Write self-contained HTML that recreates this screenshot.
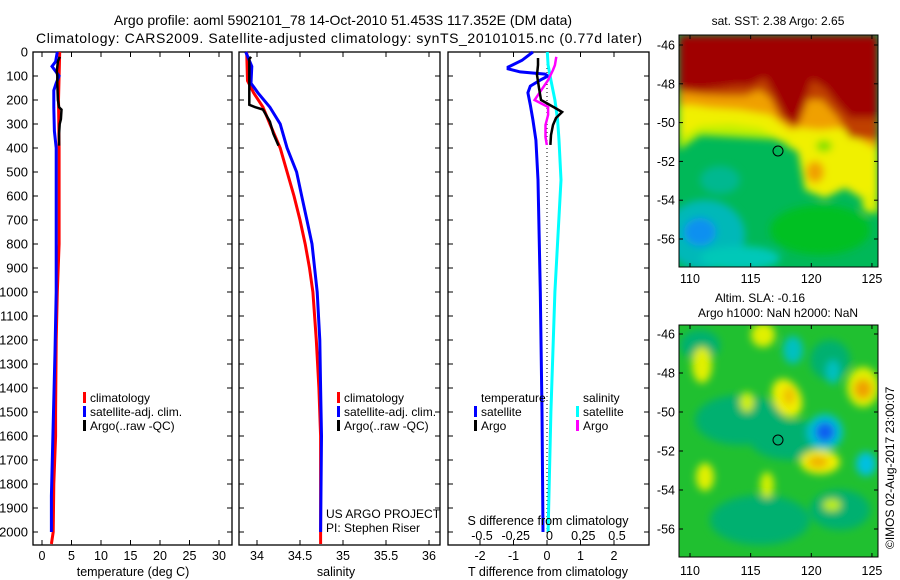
<!DOCTYPE html>
<html><head><meta charset="utf-8"><style>
html,body{margin:0;padding:0;background:#fff}
svg{display:block;font-family:"Liberation Sans",sans-serif}
text{fill:#000}
</style></head><body>
<svg id="fig" width="900" height="580" viewBox="0 0 900 580">
<defs>
<filter id="blur3" x="-10%" y="-10%" width="120%" height="120%"><feGaussianBlur stdDeviation="3"/></filter>
<filter id="blur4" x="-20%" y="-20%" width="140%" height="140%"><feGaussianBlur stdDeviation="4"/></filter>
<clipPath id="clipTop"><rect x="679" y="35" width="199" height="232"/></clipPath>
<clipPath id="clipBot"><rect x="679" y="325" width="199" height="232"/></clipPath>
</defs>
<text x="343" y="25" font-size="14" text-anchor="middle">Argo profile: aoml 5902101_78 14-Oct-2010 51.453S 117.352E (DM data)</text>
<text x="339" y="43" font-size="14" text-anchor="middle" textLength="606">Climatology: CARS2009. Satellite-adjusted climatology: synTS_20101015.nc (0.77d later)</text>

<g id="mapTop">
<g clip-path="url(#clipTop)">
<rect x="679" y="35" width="199" height="232" fill="#00b858"/>
<g filter="url(#blur4)">
<ellipse cx="705" cy="235" rx="40" ry="35" fill="#00b8b8"/>
<ellipse cx="700" cy="232" rx="16" ry="14" fill="#1090f0"/>
<ellipse cx="740" cy="258" rx="40" ry="12" fill="#00c8b8"/>
<ellipse cx="820" cy="230" rx="50" ry="25" fill="#00c020"/>
<ellipse cx="720" cy="180" rx="20" ry="14" fill="#00b890"/>
<polygon fill="#f0f000" points="679,35 878,35 878,215 865,200 845,188 825,198 805,190 798,152 782,142 760,134 730,130 700,130 690,140 679,146"/>
<polygon fill="#c0f000" points="679,138 700,126 730,124 760,128 782,140 790,150 790,140 700,135 679,150"/>
<polygon fill="#f0a000" points="679,35 878,35 878,150 860,140 840,128 820,130 800,128 790,130 770,115 740,110 710,108 690,105 679,106"/>
<ellipse cx="815" cy="172" rx="9" ry="11" fill="#f0a000"/>
<ellipse cx="870" cy="203" rx="8" ry="10" fill="#e0f000"/>
<ellipse cx="824" cy="146" rx="8" ry="6" fill="#80e000"/>
<polygon fill="#c04000" points="679,35 878,35 878,140 850,138 838,118 822,100 808,100 800,122 795,128 780,118 770,98 760,90 745,96 725,96 705,95 679,92"/>
<polygon fill="#a00000" points="679,35 878,35 878,118 850,118 838,105 825,88 812,80 802,108 796,124 786,118 776,98 765,78 750,86 735,86 720,88 700,90 679,88"/>
</g>
</g>
<rect x="679" y="35" width="199" height="232" fill="none" stroke="#000" stroke-width="1"/>
<circle cx="778" cy="151" r="5" fill="none" stroke="#000" stroke-width="1"/>
<text x="778" y="25" font-size="12" text-anchor="middle">sat. SST: 2.38 Argo: 2.65</text>
</g>

<g id="mapBot">
<g clip-path="url(#clipBot)">
<rect x="679" y="325" width="199" height="232" fill="#20c030"/>
<g filter="url(#blur4)">
<ellipse cx="740" cy="420" rx="45" ry="25" fill="#00b070"/>
<ellipse cx="790" cy="440" rx="40" ry="20" fill="#00b070"/>
<ellipse cx="760" cy="520" rx="50" ry="25" fill="#00b070"/>
<ellipse cx="840" cy="510" rx="30" ry="20" fill="#00b070"/>
<ellipse cx="700" cy="345" rx="20" ry="15" fill="#00b070"/>
<ellipse cx="830" cy="360" rx="20" ry="20" fill="#00b070"/>
<ellipse cx="793" cy="350" rx="10" ry="14" fill="#00c0c0"/>
<ellipse cx="833" cy="372" rx="7" ry="12" fill="#00c0c0"/>
<ellipse cx="825" cy="432" rx="18" ry="18" fill="#00c0d0"/>
<ellipse cx="825" cy="432" rx="10" ry="10" fill="#1060f0"/>
<ellipse cx="866" cy="464" rx="10" ry="12" fill="#00c0e0"/>
<ellipse cx="863" cy="387" rx="16" ry="20" fill="#e0f000"/>
<ellipse cx="863" cy="389" rx="9" ry="10" fill="#f0a000"/>
<ellipse cx="787" cy="398" rx="14" ry="20" fill="#f0f000" transform="rotate(-25 787 398)"/>
<ellipse cx="789" cy="396" rx="6" ry="9" fill="#f0c000"/>
<ellipse cx="820" cy="462" rx="20" ry="12" fill="#f0f000"/>
<ellipse cx="818" cy="462" rx="10" ry="6" fill="#f0b000"/>
<ellipse cx="702" cy="365" rx="10" ry="18" fill="#e0f000"/>
<ellipse cx="763" cy="335" rx="12" ry="12" fill="#e0f000"/>
<ellipse cx="705" cy="477" rx="9" ry="14" fill="#e0f000"/>
<ellipse cx="767" cy="485" rx="7" ry="13" fill="#d0f000"/>
<ellipse cx="747" cy="402" rx="7" ry="10" fill="#d0f000"/>
<ellipse cx="832" cy="505" rx="9" ry="6" fill="#c0f000"/>
</g>
</g>
<rect x="679" y="325" width="199" height="232" fill="none" stroke="#000" stroke-width="1"/>
<circle cx="778" cy="440" r="5" fill="none" stroke="#000" stroke-width="1"/>
<text x="760" y="302" font-size="12" text-anchor="middle">Altim. SLA: -0.16</text>
<text x="778" y="317" font-size="12" text-anchor="middle">Argo h1000: NaN h2000: NaN</text>
</g>
<text transform="translate(894,549) rotate(-90)" font-size="12">©IMOS 02-Aug-2017 23:00:07</text>

<g id="plots"></g>
</svg>
<script>
// depth axis
const depthTicks = [0,100,200,300,400,500,600,700,800,900,1000,1100,1200,1300,1400,1500,1600,1700,1800,1900,2000];
// temperature panel
const tempTicks = [0,5,10,15,20,25,30];
const climTDepth = [0,100,200,400,800,1000,1200,1500,1600,1800,2000,2050];
const climT = [3.0,2.9,2.8,2.9,2.9,2.6,2.4,2.3,2.3,2.0,1.9,1.6];
const satTDepth = [0,40,60,80,100,130,160,230,330,400,1000,1250,1450,1850,2000];
const satT = [2.6,2.3,1.7,2.3,2.9,2.4,2.0,2.0,2.1,2.4,2.4,2.2,2.0,1.6,1.6];
const argoTDepth = [20,40,80,100,130,200,230,240,280,300,340,390];
const argoT = [3.0,2.7,2.5,2.6,2.6,2.7,2.9,3.3,3.2,3.0,2.9,2.9];
// salinity panel
const salTicks = [34,34.5,35,35.5,36];
const climSDepth = [0,120,170,230,300,400,500,600,700,800,900,1000,1200,1400,1600,2000,2050];
const climS = [33.88,33.89,33.96,34.07,34.15,34.27,34.35,34.43,34.50,34.56,34.61,34.65,34.69,34.72,34.74,34.74,34.74];
const satSDepth = [0,60,130,170,230,300,400,500,600,700,800,900,1000,1200,1400,1600,2000];
const satS = [33.87,33.94,33.93,34.01,34.15,34.27,34.35,34.46,34.52,34.58,34.64,34.67,34.70,34.73,34.74,34.75,34.74];
const argoSDepth = [20,30,220,230,240,290,340,390];
const argoS = [33.93,33.91,33.91,33.98,34.07,34.15,34.19,34.25];
// difference panel
const tDiffTicks = [-2,-1,0,1,2];
const sDiffTicks = [-0.5,-0.25,0,0.25,0.5];
const sDiffTickLabels = ["-0.5","-0.25","0","0.25","0.5"];
const satTdDepth = [0,35,63,70,83,92,100,117,142,170,220,283,367,533,1000,1500,2000];
const satTd = [-0.42,-0.75,-1.16,-1.16,-0.8,-0.06,0.03,-0.2,-0.5,-0.57,-0.5,-0.42,-0.33,-0.27,-0.2,-0.15,-0.12];
const satSdDepth = [0,54,117,200,283,367,533,1000,1500,2000];
const satSd = [-0.016,-0.01,0.01,0.04,0.06,0.07,0.085,0.04,0.01,-0.01];
const argoSdDepth = [20,55,75,117,158,200,229,262,304,354,387];
const argoSd = [0.05,0.04,0.026,-0.01,-0.06,-0.11,-0.01,-0.01,-0.03,-0.03,-0.02];
const argoTdDepth = [25,54,96,150,200,233,250,275,304,346,387];
const argoTd = [-0.27,-0.27,-0.3,-0.24,-0.18,0.24,0.45,0.27,0.18,0.12,0.1];
// map axes
const lonTicks = [110,115,120,125];
const latTicks = [-46,-48,-50,-52,-54,-56];

const NS = "http://www.w3.org/2000/svg";
const root = document.getElementById('plots');
function mk(tag, attrs, parent){const e=document.createElementNS(NS,tag);for(const k in attrs)e.setAttribute(k,attrs[k]);(parent||root).appendChild(e);return e;}
const Y0=52, YB=545;
const yD = d => Y0 + d*0.24;
const xT = t => 42 + t*5.9;
const xS = s => 257 + (s-34)*86;
const xTd = t => 547 + t*33.5;
const xSd = s => 549.5 + s*135;

function panel(name, x0, x1, xs, ticks, labels, depthLabels){
  const g = mk('g',{});
  
  
  const r = mk('rect',{x:x0,y:Y0,width:x1-x0,height:YB-Y0,fill:'none',stroke:'#000','stroke-width':1.3},g);
  
  
  depthTicks.forEach(d=>{
    const y=yD(d);
    mk('line',{x1:x0,y1:y,x2:x0+5,y2:y,stroke:'#000'},g);
    mk('line',{x1:x1,y1:y,x2:x1-5,y2:y,stroke:'#000'},g);
    if(depthLabels){
      const t=mk('text',{x:28,y:y+4.5,'font-size':13,'text-anchor':'end'},g);
      t.textContent=d;
      
      
    }
  });
  ticks.forEach((v,i)=>{
    const x=xs(v);
    mk('line',{x1:x,y1:Y0,x2:x,y2:Y0+5,stroke:'#000'},g);
    mk('line',{x1:x,y1:YB,x2:x,y2:YB-5,stroke:'#000'},g);
    const t=mk('text',{x:x,y:560,'font-size':12.5,'text-anchor':'middle'},g);
    t.textContent=labels[i];
    
    
  });
  return g;
}
function series(name, depths, vals, xs, color, w){
  const pts = depths.map((d,i)=>xs(vals[i]).toFixed(1)+','+yD(d).toFixed(1)).join(' ');
  const p = mk('polyline',{points:pts,fill:'none',stroke:color,'stroke-width':w,'stroke-linejoin':'miter'});
  
  
}
function label(txt, x, y, name, size, anchor){
  const t=mk('text',{x:x,y:y,'font-size':size||12,'text-anchor':anchor||'start'});
  t.textContent=txt;
  
  
}
function legend(x, y, color, txt, name){
  const r=mk('rect',{x:x,y:y-10,width:3,height:11,fill:color});
  
  
  label(txt, x+7, y, name);
}

// temperature
panel('temperature-panel',33,232,xT,tempTicks,tempTicks.map(String),true);
series('temp-climatology-line',climTDepth,climT,xT,'#ff0000',3);
series('temp-satellite-line',satTDepth,satT,xT,'#0000ff',3);
series('temp-argo-line',argoTDepth,argoT,xT,'#000000',2.5);
label('temperature (deg C)',133,576,'temperature-axis-title',12.5,'middle');
legend(83,402,'#ff0000','climatology','temp-legend-climatology');
legend(83,416,'#0000ff','satellite-adj. clim.','temp-legend-satellite');
legend(83,430,'#000000','Argo(..raw -QC)','temp-legend-argo');

// salinity
panel('salinity-panel',239,440,xS,salTicks,['34','34.5','35','35.5','36'],false);
series('sal-climatology-line',climSDepth,climS,xS,'#ff0000',3);
series('sal-satellite-line',satSDepth,satS,xS,'#0000ff',3);
series('sal-argo-line',argoSDepth,argoS,xS,'#000000',2.5);
label('salinity',336,576,'salinity-axis-title',12.5,'middle');
legend(337,402,'#ff0000','climatology','sal-legend-climatology');
legend(337,416,'#0000ff','satellite-adj. clim.','sal-legend-satellite');
legend(337,430,'#000000','Argo(..raw -QC)','sal-legend-argo');
label('US ARGO PROJECT',326,518,'project-credit');
label('PI: Stephen Riser',326,532,'pi-credit');

// difference
panel('difference-panel',448,649,xTd,tDiffTicks,tDiffTicks.map(String),false);
const zl=mk('line',{x1:xTd(0),y1:Y0,x2:xTd(0),y2:YB,stroke:'#000','stroke-width':1,'stroke-dasharray':'1,3'});


series('tdiff-satellite-line',satTdDepth,satTd,xTd,'#0000ff',3);
series('sdiff-satellite-line',satSdDepth,satSd,xSd,'#00ffff',3);
series('sdiff-argo-line',argoSdDepth,argoSd,xSd,'#ff00ff',2.5);
series('tdiff-argo-line',argoTdDepth,argoTd,xTd,'#000000',2.5);
sDiffTicks.forEach((v,i)=>label(sDiffTickLabels[i],xSd(v),540,'s-diff-tick-label',12.5,'middle'));
label('S difference from climatology',548,525,'s-diff-axis-title',12.5,'middle');
label('T difference from climatology',548,576,'t-diff-axis-title',12.5,'middle');
label('temperature',481,402,'diff-legend-temp-header');
legend(474,416,'#0000ff','satellite','diff-legend-temp-satellite');
legend(474,430,'#000000','Argo','diff-legend-temp-argo');
label('salinity',583,402,'diff-legend-sal-header');
legend(576,416,'#00ffff','satellite','diff-legend-sal-satellite');
legend(576,430,'#ff00ff','Argo','diff-legend-sal-argo');

// map axes
const lonX = lon => 690 + (lon-110)*12.13;
[[35,267,45,19.4,283],[325,557,334,19.5,575]].forEach(([top,bot,lat0,pp,ly],mi)=>{
  lonTicks.forEach(lon=>{
    const x=lonX(lon);
    mk('line',{x1:x,y1:bot,x2:x,y2:bot-4,stroke:'#000'});
    mk('line',{x1:x,y1:top,x2:x,y2:top+4,stroke:'#000'});
    label(String(lon),x,ly,'map-lon-label',12.5,'middle');
  });
  latTicks.forEach(lat=>{
    const y=lat0 + (-46-lat)*pp;
    mk('line',{x1:679,y1:y,x2:683,y2:y,stroke:'#000'});
    mk('line',{x1:878,y1:y,x2:874,y2:y,stroke:'#000'});
    label(String(lat),675,y+4.5,'map-lat-label',12.5,'end');
  });
});
</script>
</body></html>
